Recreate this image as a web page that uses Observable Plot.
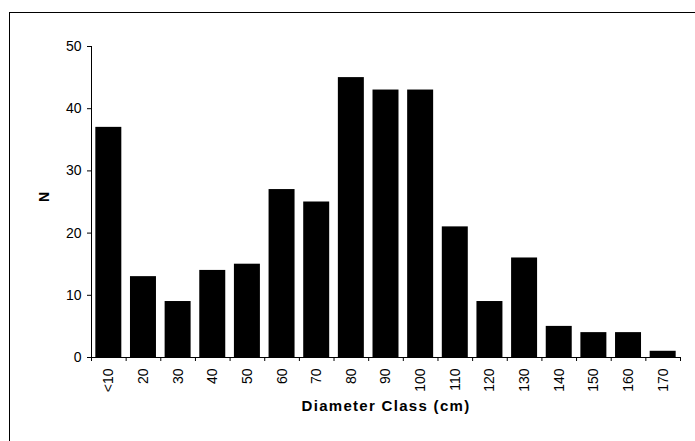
<!DOCTYPE html>
<html><head><meta charset="utf-8">
<script src="https://cdn.jsdelivr.net/npm/d3@7"></script>
<script src="https://cdn.jsdelivr.net/npm/@observablehq/plot@0.6"></script>
<style>
body{margin:0;background:#fff;}
#wrap{position:relative;width:695px;height:441px;overflow:hidden;background:#fff;}
#border{position:absolute;left:9px;top:12px;width:800px;height:600px;border:1px solid #000;pointer-events:none;}
</style></head><body><div id="wrap"><div id="border"></div></div>
<script>
const categories = ["<10","20","30","40","50","60","70","80","90","100","110","120","130","140","150","160","170"];
const counts = [37,13,9,14,15,27,25,45,43,43,21,9,16,5,4,4,1];
const yTicks = [0,10,20,30,40,50];
const xLabel = "Diameter Class (cm)";
const yLabel = "N";

const data = categories.map((c, i) => ({cls: c, n: counts[i]}));
const W = 695, H = 441, mL = 91, mR = 15, mT = 46, mB = 84;
const step = (W - mL - mR) / categories.length;

const plot = Plot.plot({
  width: W, height: H,
  marginLeft: mL, marginRight: mR, marginTop: mT, marginBottom: mB,
  style: {fontFamily: "'Liberation Sans', Arial, sans-serif", fontSize: "14px", color: "#000", background: "transparent"},
  x: {domain: categories, paddingInner: 0.25, paddingOuter: 0.125, round: false, label: null},
  y: {domain: [0, 50], label: null},
  marks: [
    Plot.barY(data, {x: "cls", y: "n", fill: "#000"}),
    Plot.axisY({ticks: yTicks, tickSize: 4, tickPadding: 6, fontSize: 14, label: null}),
    Plot.frame({anchor: "left"}),
    Plot.ruleY([0]),
    Plot.axisX({tickSize: 0, tickPadding: 11, tickRotate: -90, fontSize: 14, label: null}),
    Plot.axisX({ticks: categories, tickSize: 4, text: null, dx: -step / 2, label: null}),
    Plot.axisX({ticks: [categories[categories.length - 1]], tickSize: 4, text: null, dx: step / 2, label: null}),
    Plot.text([yLabel], {text: d => d, frameAnchor: "left", dx: -47, rotate: -90, fontWeight: "bold", fontSize: 14}),
    Plot.text([xLabel], {text: d => d, frameAnchor: "bottom", dy: 53, fontWeight: "bold", fontSize: 15})
  ]
});
d3.select(plot).selectAll("text").filter(function() { return this.textContent === xLabel; })
  .attr("letter-spacing", "1.3px");
plot.style.position = "absolute";
plot.style.left = "0px";
plot.style.top = "0px";
document.getElementById("wrap").insertBefore(plot, document.getElementById("border"));
</script>
</body></html>
